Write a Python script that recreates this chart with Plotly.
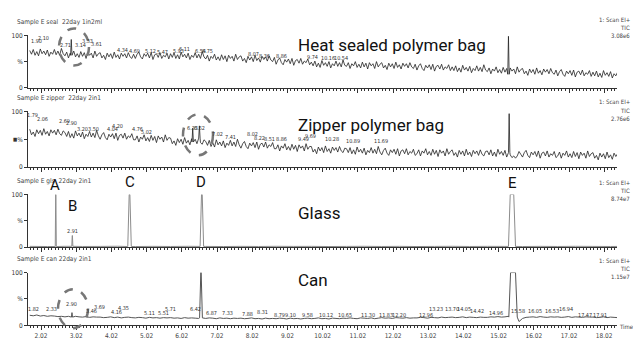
import plotly.graph_objects as go

W, H = 633, 341

# ---------------- data ----------------
# noisy TIC baselines (percent), sampled every 0.05 min from 1.70 min
NOISE_T0, NOISE_STEP = 1.70, 0.05
seal_vals = [
71,64,73,62,69,61,74,65,70,63,72,60,68,64,73,63,70,62,75,65,
61,68,57,66,62,70,59,65,58,69,60,67,56,68,62,66,57,70,60,65,
67,57,62,54,66,59,65,56,68,58,63,55,66,60,65,57,67,59,56,64,
56,64,68,59,55,65,60,66,57,67,54,63,65,58,67,56,62,59,66,55,
65,58,67,56,63,55,68,59,64,57,66,54,62,58,67,57,64,56,69,59,
55,62,51,60,56,64,53,59,52,63,54,61,50,62,56,60,51,64,54,59,
61,51,56,48,60,53,59,50,62,52,57,49,60,54,59,51,61,53,50,58,
45,53,57,48,44,54,49,55,46,56,43,52,54,47,56,45,51,48,55,44,
49,42,51,40,47,39,52,43,48,41,50,38,46,42,51,41,48,40,53,43,
41,48,37,46,42,50,39,45,38,49,40,47,36,48,42,46,37,50,40,45,
48,38,43,35,47,40,46,37,49,39,44,36,47,41,46,38,48,40,37,45,
34,42,46,37,33,43,38,44,35,45,32,41,43,36,45,34,40,37,44,33,
40,33,42,31,38,30,43,34,39,32,41,29,37,33,42,32,39,31,44,34,
31,38,27,36,32,40,29,35,28,39,30,37,26,38,32,36,27,40,30,35,
37,27,32,24,36,29,35,26,38,28,33,25,36,30,35,27,37,29,26,34,
23,31,35,26,22,32,27,33,24,34,21,30,32,25,34,23,29,26,33,22,
30,23,32,21,28,20,33,24,29,22,31,19,27,23,30]

zip_vals = [
68,58,63,55,67,60,66,57,69,59,64,56,67,61,66,58,68,60,57,65,
62,55,64,53,60,52,65,56,61,54,63,51,59,55,64,54,61,53,66,56,
50,58,62,53,49,59,54,60,51,61,48,57,59,52,61,50,56,53,60,49,
49,56,45,54,50,58,47,53,46,57,48,55,44,56,50,54,45,58,48,53,
52,42,47,39,51,44,50,41,53,43,48,40,51,45,50,42,52,44,41,49,
46,39,48,37,44,36,49,40,45,38,47,35,43,39,48,38,45,37,50,40,
34,42,46,37,33,43,38,44,35,45,32,41,43,36,45,34,40,37,44,33,
33,40,29,38,34,42,31,37,30,41,32,39,28,40,34,38,29,42,32,37,
37,27,32,24,36,29,35,26,38,28,33,25,36,30,35,27,37,29,26,34,
33,26,35,24,31,23,36,27,32,25,34,22,30,26,35,25,32,24,37,27,
22,30,34,25,21,31,26,32,23,33,20,29,31,24,33,22,28,25,32,21,
24,31,20,29,25,33,22,28,21,32,23,30,19,31,25,29,20,33,23,28,
31,21,26,18,30,23,29,20,32,22,27,19,30,24,29,21,31,23,20,28,
29,22,31,20,27,19,32,23,28,21,30,18,26,22,17,20,16,20,28,23,
18,26,30,21,17,27,22,28,19,29,16,25,27,20,29,18,24,21,28,17,
20,27,16,25,21,29,18,24,17,28,19,26,15,27,21,25,16,29,19,24,
26,16,21,13,25,18,24,15,27,17,22,14,25,19,24]

# can baseline, every 0.1 min from 1.70
CAN_T0, CAN_STEP = 1.70, 0.10
can_vals = [
19,18,19.5,17.5,18.5,17,18,17.5,16.5,17,
16,17,15.5,17,16,15.5,16.5,15,16,15.5,
15.5,14.5,15,16,14.5,15.5,14,15,15.5,14.5,
14,15,14.5,13.5,15,14,14.5,13.5,14.5,14,
14.5,13.5,14,13,14.5,13.5,14,13.5,13,14,
13,14,13.5,12.5,14,13,13.5,12.5,13.5,13,
13.5,12.5,13,14,12.5,13,12,13.5,12.5,13,
12.5,13.5,13,12,13.5,12.5,13,12,13,13.5,
12.5,13,14,12.5,13,12,13.5,13,12.5,13.5,
13,14,13,12.5,14,13.5,13,14,12.5,13.5,
14.5,13.5,14,13,14.5,14,13.5,14.5,13.5,14,
14,15,14.5,13.5,15,14.5,14,15.5,14.5,15,
15.5,14.5,15,16,14.5,15.5,15,14.5,15.5,15,
15,16,15.5,16.5,15.5,16,17,15.5,15,7,
13,15,15.5,16,15,16.5,15.5,15,16,15.5,
16,15,15.5,16.5,15,16,15.5,15,16,15.5,
15.5,14.5,15,16,14.5,15.5,15,14.5]

# glass baseline, every 0.5 min from 1.70
GLS_T0, GLS_STEP = 1.70, 0.50
glass_vals = [1.5,1.2,1.6,1.3,1.4,1.7,1.2,1.5,1.3,1.6,1.4,1.2,1.5,1.3,1.6,1.4,1.5,
              1.2,1.4,1.6,1.3,1.5,1.2,1.4,1.6,1.3,1.5,1.4,1.2,1.5,1.3,1.6,1.4,1.3,1.5]

# peaks: retention time, height %, half base width, half top width
seal_pk_t = [2.88, 15.30]; seal_pk_h = [92, 98]; seal_pk_w = [0.02, 0.02]; seal_pk_f = [0, 0]
zip_pk_t = [6.33, 6.52, 15.32]; zip_pk_h = [70, 74, 96]; zip_pk_w = [0.02, 0.02, 0.02]; zip_pk_f = [0, 0, 0]
gls_pk_t = [2.44, 2.91, 4.535, 6.59, 15.40]; gls_pk_h = [100, 22, 100, 100, 100]
gls_pk_w = [0.015, 0.015, 0.05, 0.05, 0.10]; gls_pk_f = [0.003, 0.003, 0.01, 0.01, 0.05]
can_pk_t = [2.90, 6.565, 15.43]; can_pk_h = [24, 100, 100]
can_pk_w = [0.015, 0.04, 0.12]; can_pk_f = [0, 0.005, 0.07]

# peak labels (retention times) and label heights in %
seal_lbl_t = [1.90,2.10,2.71,2.90,3.14,3.33,3.61,4.34,4.69,5.12,5.47,5.93,6.11,6.54,6.75,8.07,8.36,8.86,9.74,10.16,10.54,15.30]
seal_lbl_h = [89,94,81,106,81,89,83,72,70,70,69,70,74,70,70,65,61,61,59,57,56,104]
zip_lbl_t = [1.79,2.06,2.69,2.90,3.20,3.50,4.04,4.20,4.76,5.02,6.33,6.52,7.02,7.41,8.02,8.22,8.51,8.86,9.49,9.69,10.28,10.89,11.69]
zip_lbl_h = [93,86,82,79,68,68,68,74,68,63,70,70,60,54,60,53,51,51,51,56,51,47,47]
gls_lbl_t = [2.91]; gls_lbl_h = [31]
can_lbl_t = [1.82,2.33,2.90,3.46,3.69,4.16,4.35,5.11,5.51,5.71,6.42,6.87,7.33,7.88,8.31,8.79,9.10,9.58,10.12,10.65,
             11.30,11.83,12.20,12.96,13.23,13.70,14.05,14.42,14.96,15.58,16.05,16.53,16.94,17.47,17.91]
can_lbl_h = [31,30,41,28,35,26,33,24,24,31,31,24,24,22,26,20,20,20,20,20,19,19,19,20,30,30,30,28,24,28,28,28,30,20,20]

tick_vals = [2.02,3.02,4.02,5.02,6.02,7.02,8.02,9.02,10.02,11.02,12.02,13.02,14.02,15.02,16.02,17.02,18.02]
tick_text = ["2.02","3.02","4.02","5.02","6.02","7.02","8.02","9.02","10.02","11.02","12.02","13.02","14.02","15.02","16.02","17.02","18.02"]

titles = ["Sample E seal  22day 1in2ml", "Sample E zipper  22day 2in1", "Sample E gls  22day 2in1", "Sample E can 22day 2in1"]
scales = ["3.08e6", "2.76e6", "8.74e7", "1.15e7"]
names = ["Heat sealed polymer bag", "Zipper polymer bag", "Glass", "Can"]
letters = ["A", "B", "C", "D", "E"]

# ---------------- helpers ----------------
def grid(vals, t0, step):
    return [round(t0 + i * step, 3) for i in range(len(vals))]

def build(ts, ys, pt, ph, pw, pf):
    base_pts = list(zip(ts, ys))
    pts = list(base_pts)
    for t, h, w, f in zip(pt, ph, pw, pf):
        base = min(base_pts, key=lambda p: abs(p[0] - t))[1]
        pts = [p for p in pts if not (t - w < p[0] < t + w)]
        if f > 0:
            pts += [(t - w, base), (t - f, h), (t + f, h), (t + w, base)]
        else:
            pts += [(t - w, base), (t, h), (t + w, base)]
    pts.sort()
    return [p[0] for p in pts], [p[1] for p in pts]

def px(x):
    return x / W

def py(y):
    return 1 - y / H

SMALL = "Liberation Sans Narrow, Arial Narrow, DejaVu Sans Condensed, Liberation Sans, sans-serif"
BIG = "Roboto, Inter, sans-serif"

# panel geometry in pixels: (y of 0%, y of 100%)
panels = [(86, 32), (167, 110), (249, 195), (329, 275)]
X_L, X_R = 28, 617
T_REF, X_REF, PX_PER_MIN = 2.02, 41, 35.2
xrange_ = [T_REF - (X_REF - X_L) / PX_PER_MIN, T_REF + (X_R - X_REF) / PX_PER_MIN]

series = [
    build(grid(seal_vals, NOISE_T0, NOISE_STEP), seal_vals, seal_pk_t, seal_pk_h, seal_pk_w, seal_pk_f),
    build(grid(zip_vals, NOISE_T0, NOISE_STEP), zip_vals, zip_pk_t, zip_pk_h, zip_pk_w, zip_pk_f),
    build(grid(glass_vals, GLS_T0, GLS_STEP), glass_vals, gls_pk_t, gls_pk_h, gls_pk_w, gls_pk_f),
    build(grid(can_vals, CAN_T0, CAN_STEP), can_vals, can_pk_t, can_pk_h, can_pk_w, can_pk_f),
]
colors = ["#222222", "#222222", "#8c8c8c", "#555555"]
widths = [0.8, 0.8, 1.0, 1.0]

fig = go.Figure()
layout = dict(
    width=W, height=H, margin=dict(l=0, r=0, t=0, b=0),
    paper_bgcolor="white", plot_bgcolor="white", showlegend=False,
    font=dict(family=SMALL, size=7, color="#333"),
)
annotations = []
shapes = []

for i, (xs, ys) in enumerate(series):
    n = "" if i == 0 else str(i + 1)
    fig.add_trace(go.Scatter(x=xs, y=ys, mode="lines", xaxis="x" + n, yaxis="y" + n,
                             line=dict(color=colors[i], width=widths[i], simplify=False),
                             hoverinfo="skip"))
    y0, y100 = panels[i]
    layout["xaxis" + n] = dict(
        domain=[px(X_L), px(X_R)], range=xrange_, anchor="y" + n,
        showline=True, linecolor="#333", linewidth=1, showgrid=False, zeroline=False,
        ticks="outside", ticklen=4, tickcolor="#333", tickwidth=1,
        tickvals=tick_vals, ticktext=tick_text, showticklabels=(i == 3),
        tickfont=dict(family=SMALL, size=6.5, color="#444"),
        minor=dict(dtick=0.1, tick0=2.02, ticks="outside", ticklen=2, tickcolor="#333"),
    )
    if i > 0:
        layout["xaxis" + n]["matches"] = "x"
    layout["yaxis" + n] = dict(
        domain=[py(y0), py(y100)], range=[0, 100], anchor="x" + n,
        showline=True, linecolor="#333", linewidth=1, showgrid=False, zeroline=False,
        ticks="outside", ticklen=3, tickcolor="#333",
        tickvals=[0, 50, 100], ticktext=["0", "%", "100"],
        tickfont=dict(family=SMALL, size=6.5, color="#333"),
    )
    # panel title
    annotations.append(dict(xref="paper", yref="paper", x=px(15), y=py(y100 - 14), xanchor="left",
                            yanchor="middle", text=titles[i], showarrow=False,
                            font=dict(family=SMALL, size=6.5, color="#444")))

# right header texts
hdr_y = [(16, 24, 32), (100, 109, 117), (183, 191, 199), (263, 271, 279)]
for i in range(4):
    for txt, yy in zip(["1: Scan EI+", "TIC", scales[i]], hdr_y[i]):
        annotations.append(dict(xref="paper", yref="paper", x=px(632), y=py(yy), xanchor="right",
                                yanchor="middle", text=txt, showarrow=False,
                                font=dict(family=SMALL, size=6, color="#444")))

# big names
name_y = [42, 124, 214, 283]
for i in range(4):
    annotations.append(dict(xref="paper", yref="paper", x=px(296), y=py(name_y[i]), xanchor="left",
                            yanchor="middle", text=names[i], showarrow=False,
                            font=dict(family=BIG, size=17, color="#111")))

# letters on glass panel
letter_xy = [(55, 185), (72, 207), (130, 182), (201, 182), (512, 183)]
for L, (lx, ly) in zip(letters, letter_xy):
    annotations.append(dict(xref="paper", yref="paper", x=px(lx), y=py(ly), xanchor="center",
                            yanchor="middle", text=L, showarrow=False,
                            font=dict(family=BIG, size=15, color="#111")))

# peak labels
lbl_sets = [(seal_lbl_t, seal_lbl_h), (zip_lbl_t, zip_lbl_h), (gls_lbl_t, gls_lbl_h), (can_lbl_t, can_lbl_h)]
for i, (lt, lh) in enumerate(lbl_sets):
    n = "" if i == 0 else str(i + 1)
    for t, h in zip(lt, lh):
        annotations.append(dict(xref="x" + n, yref="y" + n, x=t, y=h, xanchor="center", yanchor="middle",
                                text="%.2f" % t, showarrow=False,
                                font=dict(family=SMALL, size=5.5, color="#333")))

# misc
annotations.append(dict(xref="paper", yref="paper", x=px(617), y=py(330), xanchor="left", yanchor="middle",
                        text="Time", showarrow=False, font=dict(family=SMALL, size=6, color="#444")))
annotations.append(dict(xref="paper", yref="paper", x=px(15), y=py(138), xanchor="center", yanchor="middle",
                        text="■", showarrow=False, font=dict(size=5, color="#333")))

# dashed circles
for (x0, y0, x1, y1) in [(59, 25, 89, 63), (183, 113, 213, 155), (58, 292, 88, 332)]:
    shapes.append(dict(type="circle", xref="paper", yref="paper", x0=px(x0), x1=px(x1), y0=py(y1), y1=py(y0),
                       line=dict(color="#777", width=2.5, dash="dash")))

layout["annotations"] = annotations
layout["shapes"] = shapes
fig.update_layout(**layout)
fig.write_html("out.html", config={"displayModeBar": False},
               post_script="document.body.style.margin='0';document.body.style.padding='0';")
